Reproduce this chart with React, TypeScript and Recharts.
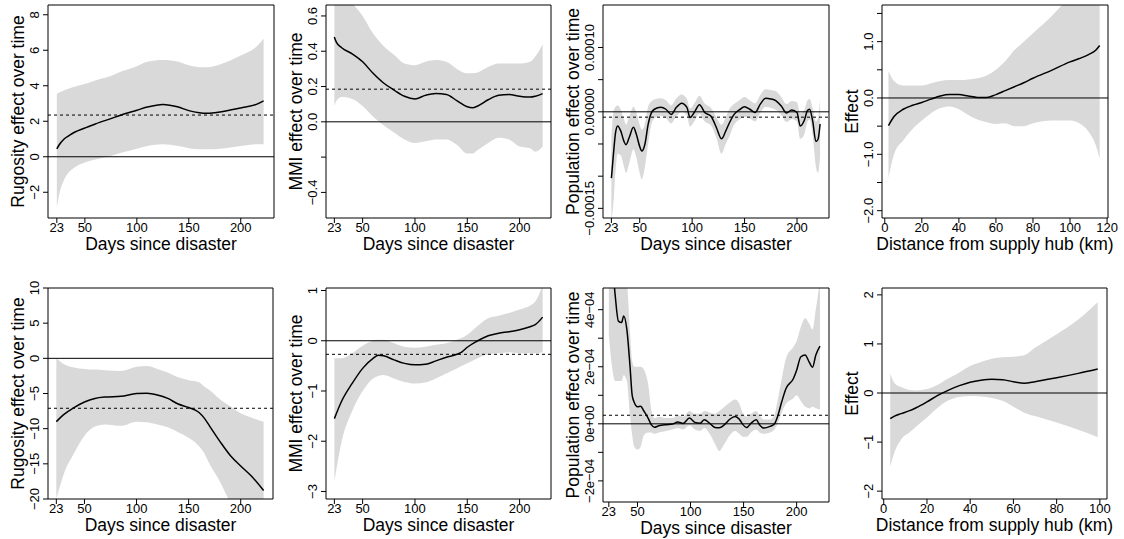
import React from 'react'
import { ComposedChart, Area, Line, XAxis, YAxis, ReferenceLine, ReferenceArea } from 'recharts'

const FONT = "'Liberation Sans', Arial, Helvetica, sans-serif"
const BAND = '#d9d9d9'

// shared tick labels
const xTicksDays = [23, 50, 100, 150, 200]
const xTicksDist1 = [0, 20, 40, 60, 80, 100, 120]
const xTicksDist2 = [0, 20, 40, 60, 80, 100]

// panel 1: rugosity (top)
const days1 = [23, 25, 30, 35, 40, 50, 60, 75, 85, 100, 110, 125, 140, 150, 160, 168, 180, 200, 215, 222]
const fit1 = [0.45, 0.65, 1.0, 1.2, 1.38, 1.62, 1.85, 2.15, 2.35, 2.62, 2.8, 2.95, 2.8, 2.6, 2.48, 2.45, 2.52, 2.75, 2.95, 3.15]
const lo1 = [-2.9, -2.2, -1.3, -0.85, -0.6, -0.32, -0.15, 0.05, 0.22, 0.45, 0.6, 0.7, 0.6, 0.48, 0.42, 0.42, 0.45, 0.6, 0.7, 0.7]
const hi1 = [3.55, 3.6, 3.75, 3.85, 3.95, 4.1, 4.3, 4.55, 4.8, 5.1, 5.35, 5.45, 5.35, 5.15, 5.05, 5.05, 5.2, 5.7, 6.2, 6.65]
const yTicks1 = [-2, 0, 2, 4, 6, 8]
const yLabels1 = ['−2', '0', '2', '4', '6', '8']

// panel 2: MMI (top)
const days2 = [23, 25, 30, 40, 50, 60, 70, 80, 90, 100, 110, 120, 130, 140, 150, 155, 160, 170, 180, 190, 200, 210, 215, 222]
const fit2 = [0.48, 0.45, 0.42, 0.385, 0.34, 0.275, 0.22, 0.18, 0.145, 0.13, 0.15, 0.16, 0.155, 0.12, 0.085, 0.08, 0.09, 0.125, 0.15, 0.155, 0.145, 0.14, 0.145, 0.16]
const lo2 = [0.09, 0.12, 0.14, 0.13, 0.09, 0.03, -0.02, -0.06, -0.1, -0.12, -0.11, -0.1, -0.1, -0.13, -0.18, -0.18, -0.16, -0.12, -0.09, -0.1, -0.14, -0.15, -0.17, -0.14]
const hi2 = [0.7, 0.72, 0.72, 0.67, 0.6, 0.5, 0.43, 0.38, 0.33, 0.32, 0.34, 0.35, 0.34, 0.3, 0.275, 0.275, 0.28, 0.31, 0.33, 0.33, 0.33, 0.34, 0.37, 0.44]
const yTicks2 = [-0.4, -0.2, 0, 0.2, 0.4, 0.6]
const yLabels2 = ['−0.4', '', '0.0', '0.2', '0.4', '0.6']

// panel 3: population (top)
const days3 = [23, 25, 27, 29, 32, 35, 37, 40, 44, 47, 50, 52, 55, 58, 61, 64, 70, 75, 80, 85, 90, 95, 98, 102, 107, 112, 118, 123, 128, 132, 135, 140, 145, 150, 155, 160, 165, 170, 175, 180, 185, 190, 195, 200, 203, 207, 210, 212, 215, 218, 220, 222]
const fit3 = [-10.3e-5, -6.5e-5, -3.2e-5, -2.2e-5, -3.0e-5, -4.6e-5, -5.1e-5, -4.0e-5, -2.4e-5, -3.6e-5, -5.4e-5, -6.1e-5, -5.0e-5, -2.0e-5, -0.2e-5, 0.4e-5, 0.7e-5, 0.4e-5, -0.4e-5, 0.7e-5, 1.35e-5, 0.7e-5, -0.9e-5, -0.1e-5, 1.1e-5, -0.1e-5, -0.7e-5, -2.4e-5, -4.2e-5, -3.0e-5, -1.9e-5, -0.4e-5, 0.3e-5, 0.8e-5, 0.4e-5, -0.1e-5, 1.2e-5, 2.1e-5, 2.0e-5, 1.7e-5, 0.9e-5, -0.2e-5, 0.3e-5, -0.1e-5, -2.2e-5, -1.3e-5, 0.2e-5, 0.4e-5, -1.5e-5, -4.6e-5, -4.3e-5, -1.9e-5]
const lo3 = [-17e-5, -14e-5, -9e-5, -6.5e-5, -6.8e-5, -8.5e-5, -9.5e-5, -8.0e-5, -5.8e-5, -7.2e-5, -9.5e-5, -10.5e-5, -8.5e-5, -5.0e-5, -2.0e-5, -1.0e-5, -0.6e-5, -1.0e-5, -1.8e-5, -0.7e-5, 0.0, -0.6e-5, -2.3e-5, -1.5e-5, -0.3e-5, -1.5e-5, -2.1e-5, -4.0e-5, -6.5e-5, -5.0e-5, -4.0e-5, -2.0e-5, -1.2e-5, -0.8e-5, -1.0e-5, -1.5e-5, -0.2e-5, 0.8e-5, 0.6e-5, 0.3e-5, -0.5e-5, -1.6e-5, -1.1e-5, -1.5e-5, -4.2e-5, -3.5e-5, -1.5e-5, -1.2e-5, -3.8e-5, -8.5e-5, -9.5e-5, -7.0e-5]
const hi3 = [-4e-5, 0.0, 0.8e-5, 1.0e-5, 0.3e-5, -1.2e-5, -2.0e-5, -0.8e-5, 0.8e-5, -0.2e-5, -2.0e-5, -2.8e-5, -1.8e-5, 0.8e-5, 1.6e-5, 1.9e-5, 2.1e-5, 1.8e-5, 1.0e-5, 2.1e-5, 2.7e-5, 2.0e-5, 0.5e-5, 1.3e-5, 2.5e-5, 1.3e-5, 0.6e-5, -0.8e-5, -2.0e-5, -0.9e-5, 0.3e-5, 1.2e-5, 1.8e-5, 2.3e-5, 1.8e-5, 1.3e-5, 2.6e-5, 3.5e-5, 3.4e-5, 3.2e-5, 2.3e-5, 1.2e-5, 1.7e-5, 1.5e-5, -0.2e-5, 0.3e-5, 1.8e-5, 2.0e-5, 0.5e-5, -1.5e-5, -1.0e-5, 2.0e-5]
const yTicks3 = [-0.00015, -0.0001, -0.00005, 0, 0.00005, 0.0001]
const yLabels3 = ['−0.00015', '', '', '0.00000', '', '0.00010']

// panel 4: distance (top)
const dist4 = [2, 5, 10, 15, 20, 25, 30, 35, 40, 45, 50, 55, 60, 65, 70, 75, 80, 90, 100, 105, 110, 114, 116]
const fit4 = [-0.49, -0.33, -0.2, -0.13, -0.08, -0.02, 0.035, 0.06, 0.06, 0.035, 0.01, 0.01, 0.06, 0.13, 0.2, 0.27, 0.35, 0.49, 0.64, 0.7, 0.77, 0.85, 0.93]
const lo4 = [-1.42, -1.0, -0.75, -0.55, -0.4, -0.27, -0.18, -0.15, -0.2, -0.3, -0.38, -0.43, -0.46, -0.45, -0.5, -0.5, -0.45, -0.4, -0.4, -0.45, -0.6, -0.85, -1.08]
const hi4 = [0.48, 0.3, 0.22, 0.22, 0.22, 0.26, 0.3, 0.32, 0.32, 0.33, 0.35, 0.4, 0.5, 0.65, 0.85, 1.0, 1.15, 1.45, 1.8, 1.95, 2.1, 2.2, 2.3]
const yTicks4 = [-2, -1.5, -1, -0.5, 0, 0.5, 1, 1.5]
const yLabels4 = ['−2.0', '', '−1.0', '', '0.0', '', '1.0', '']

// panel 5: rugosity (bottom)
const days5 = [23, 30, 40, 50, 60, 70, 85, 100, 110, 120, 130, 140, 150, 160, 165, 170, 180, 190, 200, 210, 222]
const fit5 = [-9.0, -8.0, -7.0, -6.2, -5.7, -5.5, -5.4, -5.0, -4.95, -5.2, -5.7, -6.5, -7.0, -7.7, -8.5, -9.6, -11.8, -13.8, -15.3, -16.7, -18.8]
const lo5 = [-20, -16.5, -13.5, -11, -9.7, -9.4, -9.6, -9.0, -9.1, -9.4, -9.8, -10.5, -11.3, -12.5, -13.5, -15, -17.5, -20.5, -23, -25, -28]
const hi5 = [0, -0.8, -1.3, -1.5, -1.6, -1.7, -1.8, -1.2, -1.1, -1.5, -2.0, -2.7, -3.1, -3.4, -4.0, -4.5, -5.8, -6.8, -7.8, -8.4, -9.0]
const yTicks5 = [-20, -15, -10, -5, 0, 5, 10]
const yLabels5 = ['−20', '−15', '−10', '−5', '0', '5', '10']

// panel 6: MMI (bottom)
const days6 = [23, 30, 40, 50, 60, 65, 70, 80, 90, 100, 110, 120, 130, 140, 145, 150, 160, 170, 180, 190, 200, 210, 215, 222]
const fit6 = [-1.55, -1.2, -0.85, -0.55, -0.35, -0.29, -0.3, -0.38, -0.45, -0.48, -0.47, -0.4, -0.33, -0.27, -0.22, -0.13, 0.0, 0.1, 0.15, 0.18, 0.22, 0.28, 0.32, 0.47]
const lo6 = [-2.8, -2.0, -1.4, -1.0, -0.75, -0.7, -0.68, -0.75, -0.82, -0.85, -0.83, -0.75, -0.65, -0.55, -0.5, -0.45, -0.35, -0.27, -0.25, -0.23, -0.25, -0.25, -0.25, -0.23]
const hi6 = [-0.35, -0.35, -0.25, -0.1, 0.0, 0.02, 0.02, -0.05, -0.12, -0.14, -0.12, -0.08, -0.05, 0.02, 0.06, 0.12, 0.3, 0.45, 0.5, 0.55, 0.62, 0.7, 0.78, 1.1]
const yTicks6 = [-3, -2, -1, 0, 1]
const yLabels6 = ['−3', '−2', '−1', '0', '1']

// panel 7: population (bottom)
const days7 = [23, 26, 29, 32, 35, 37, 40, 43, 45, 47, 50, 53, 56, 60, 63, 66, 70, 77, 83, 88, 93, 99, 104, 109, 113, 118, 123, 127, 132, 137, 142, 146, 149, 153, 157, 162, 165, 169, 175, 179, 182, 186, 190, 197, 200, 204, 208, 212, 215, 218, 222]
const fit7 = [7.0e-4, 5.8e-4, 4.5e-4, 3.6e-4, 3.55e-4, 3.78e-4, 3.3e-4, 2.0e-4, 1.0e-4, 0.75e-4, 0.6e-4, 0.62e-4, 0.45e-4, 0.2e-4, -0.03e-4, -0.12e-4, -0.07e-4, -0.03e-4, -0.01e-4, 0.06e-4, 0.01e-4, 0.2e-4, 0.05e-4, 0.02e-4, 0.14e-4, 0.02e-4, -0.13e-4, -0.14e-4, -0.03e-4, 0.16e-4, 0.26e-4, 0.16e-4, -0.01e-4, -0.13e-4, 0.02e-4, 0.14e-4, -0.03e-4, -0.15e-4, -0.09e-4, -0.01e-4, 0.25e-4, 0.78e-4, 1.24e-4, 1.59e-4, 1.88e-4, 2.35e-4, 2.41e-4, 2.15e-4, 1.98e-4, 2.4e-4, 2.72e-4]
const lo7 = [3.1e-4, 2.0e-4, 1.5e-4, 1.5e-4, 1.5e-4, 1.7e-4, 1.5e-4, 0.3e-4, -0.4e-4, -0.8e-4, -0.9e-4, -0.8e-4, -0.4e-4, -0.3e-4, -0.3e-4, -0.35e-4, -0.3e-4, -0.25e-4, -0.2e-4, -0.15e-4, -0.2e-4, -0.05e-4, -0.2e-4, -0.25e-4, -0.15e-4, -0.35e-4, -0.7e-4, -0.95e-4, -0.7e-4, -0.4e-4, -0.25e-4, -0.35e-4, -0.45e-4, -0.45e-4, -0.3e-4, -0.2e-4, -0.3e-4, -0.35e-4, -0.3e-4, -0.2e-4, 0.0, 0.4e-4, 0.7e-4, 0.9e-4, 1.0e-4, 0.8e-4, 0.6e-4, 0.55e-4, 0.6e-4, 0.55e-4, 0.5e-4]
const hi7 = [9e-4, 8e-4, 7e-4, 6e-4, 5.5e-4, 5.5e-4, 5.0e-4, 3.2e-4, 2.2e-4, 2.0e-4, 2.0e-4, 2.0e-4, 1.9e-4, 1.4e-4, 0.5e-4, 0.2e-4, 0.25e-4, 0.2e-4, 0.2e-4, 0.3e-4, 0.25e-4, 0.45e-4, 0.35e-4, 0.35e-4, 0.45e-4, 0.4e-4, 0.35e-4, 0.45e-4, 0.6e-4, 0.75e-4, 0.85e-4, 0.7e-4, 0.4e-4, 0.25e-4, 0.35e-4, 0.45e-4, 0.3e-4, 0.15e-4, 0.15e-4, 0.3e-4, 0.8e-4, 1.6e-4, 2.3e-4, 2.7e-4, 2.9e-4, 3.4e-4, 3.7e-4, 3.5e-4, 3.3e-4, 4.0e-4, 5.0e-4]
const yTicks7 = [-2e-4, -1e-4, 0, 1e-4, 2e-4, 3e-4, 4e-4]
const yLabels7 = ['−2e−04', '', '0e+00', '', '2e−04', '', '4e−04']

// panel 8: distance (bottom)
const dist8 = [3, 5, 8, 12, 15, 20, 25, 30, 35, 40, 45, 50, 55, 60, 65, 70, 80, 90, 99]
const fit8 = [-0.52, -0.47, -0.42, -0.36, -0.3, -0.18, -0.05, 0.06, 0.15, 0.22, 0.26, 0.28, 0.27, 0.23, 0.2, 0.23, 0.31, 0.4, 0.49]
const lo8 = [-1.5, -1.2, -0.95, -0.8, -0.68, -0.5, -0.3, -0.15, -0.08, -0.06, -0.07, -0.1, -0.16, -0.28, -0.4, -0.47, -0.6, -0.75, -0.9]
const hi8 = [0.4, 0.2, 0.12, 0.06, 0.05, 0.08, 0.17, 0.3, 0.42, 0.55, 0.63, 0.7, 0.73, 0.74, 0.77, 0.92, 1.2, 1.5, 1.85]
const yTicks8 = [-2, -1, 0, 1, 2]
const yLabels8 = ['−2', '−1', '0', '1', '2']

const rows = (xs: number[], fit: number[], lo: number[], hi: number[]) =>
  xs.map((x, i) => ({ x, fit: fit[i], band: [lo[i], hi[i]] }))

// space around each plot box, inside its chart
const LEFT = 48
const TOP = 14
const RIGHT = 14
const BOTTOM = 40

type PanelProps = {
  data: any[]
  box: [number, number, number, number]
  xDomain: [number, number]
  yDomain: [number, number]
  xTicks: number[]
  yTicks: number[]
  yLabels: string[]
  xTitle: string
  yTitle: string
  mean?: number
}

function Panel({ data, box, xDomain, yDomain, xTicks, yTicks, yLabels, xTitle, yTitle, mean }: PanelProps) {
  const [l, t, r, b] = box
  const width = r - l + LEFT + RIGHT
  const height = b - t + TOP + BOTTOM

  const YTick = ({ x, y, payload }: any) => {
    const i = yTicks.indexOf(payload.value)
    const text = i >= 0 ? yLabels[i] : ''
    return (
      <text x={x} y={y} transform={`rotate(-90 ${x} ${y})`} textAnchor="middle" fontSize={13} fill="#000" fontFamily={FONT}>
        {text}
      </text>
    )
  }

  return (
    <div style={{ position: 'absolute', left: l - LEFT, top: t - TOP }}>
      <ComposedChart width={width} height={height} data={data} margin={{ top: TOP, right: RIGHT, bottom: 0, left: 0 }}>
        <XAxis
          type="number"
          dataKey="x"
          domain={xDomain}
          allowDataOverflow
          ticks={xTicks}
          interval={0}
          height={BOTTOM}
          tickSize={5}
          tickMargin={0}
          axisLine={false}
          tickLine={{ stroke: '#000' }}
          tick={{ fontSize: 13, fill: '#000', fontFamily: FONT }}
          label={{ value: xTitle, position: 'insideBottom', offset: 8, style: { fontSize: 17.5, fill: '#000', fontFamily: FONT } }}
        />
        <YAxis
          type="number"
          domain={yDomain}
          allowDataOverflow
          ticks={yTicks}
          interval={0}
          width={LEFT}
          tickSize={5}
          tickMargin={4}
          axisLine={false}
          tickLine={{ stroke: '#000' }}
          tick={<YTick />}
          label={{ value: yTitle, angle: -90, position: 'insideLeft', offset: 18, style: { textAnchor: 'middle', fontSize: 17.5, fill: '#000', fontFamily: FONT } }}
        />
        <Area type="monotone" dataKey="band" stroke="none" fill={BAND} fillOpacity={1} isAnimationActive={false} />
        <ReferenceLine y={0} stroke="#000" strokeWidth={1} />
        {mean !== undefined && <ReferenceLine y={mean} stroke="#000" strokeWidth={1} strokeDasharray="3 3" />}
        <Line type="monotone" dataKey="fit" stroke="#000" strokeWidth={1.5} dot={false} isAnimationActive={false} />
        <ReferenceArea x1={xDomain[0]} x2={xDomain[1]} y1={yDomain[0]} y2={yDomain[1]} fill="none" stroke="#000" strokeWidth={1} ifOverflow="visible" />
      </ComposedChart>
    </div>
  )
}

const days = 'Days since disaster'
const dist = 'Distance from supply hub (km)'

export default function App() {
  return (
    <div style={{ position: 'absolute', left: 0, top: 0, width: 1124, height: 539, background: '#fff', fontFamily: FONT, overflow: 'hidden' }}>
      <Panel data={rows(days1, fit1, lo1, hi1)} box={[48, 5, 274, 218]} xDomain={[14.5, 232]} yDomain={[-3.45, 8.55]}
        xTicks={xTicksDays} yTicks={yTicks1} yLabels={yLabels1} xTitle={days} yTitle="Rugosity effect over time" mean={2.35} />
      <Panel data={rows(days2, fit2, lo2, hi2)} box={[326, 5, 551, 218]} xDomain={[15, 230]} yDomain={[-0.545, 0.662]}
        xTicks={xTicksDays} yTicks={yTicks2} yLabels={yLabels2} xTitle={days} yTitle="MMI effect over time" mean={0.185} />
      <Panel data={rows(days3, fit3, lo3, hi3)} box={[603, 5, 829, 218]} xDomain={[15, 230.5]} yDomain={[-0.000165, 0.000166]}
        xTicks={xTicksDays} yTicks={yTicks3} yLabels={yLabels3} xTitle={days} yTitle="Population effect over time" mean={-0.0000083} />
      <Panel data={rows(dist4, fit4, lo4, hi4)} box={[882, 5, 1108, 218]} xDomain={[-1.5, 120.5]} yDomain={[-2.13, 1.65]}
        xTicks={xTicksDist1} yTicks={yTicks4} yLabels={yLabels4} xTitle={dist} yTitle="Effect" />
      <Panel data={rows(days5, fit5, lo5, hi5)} box={[48, 288, 273, 499]} xDomain={[15, 231]} yDomain={[-20, 10]}
        xTicks={xTicksDays} yTicks={yTicks5} yLabels={yLabels5} xTitle={days} yTitle="Rugosity effect over time" mean={-7.1} />
      <Panel data={rows(days6, fit6, lo6, hi6)} box={[326, 288, 551, 499]} xDomain={[15, 230]} yDomain={[-3.15, 1.05]}
        xTicks={xTicksDays} yTicks={yTicks6} yLabels={yLabels6} xTitle={days} yTitle="MMI effect over time" mean={-0.27} />
      <Panel data={rows(days7, fit7, lo7, hi7)} box={[603, 288, 829, 502]} xDomain={[17.5, 230.5]} yDomain={[-0.000274, 0.000476]}
        xTicks={xTicksDays} yTicks={yTicks7} yLabels={yLabels7} xTitle={days} yTitle="Population effect over time" mean={0.00003} />
      <Panel data={rows(dist8, fit8, lo8, hi8)} box={[882, 288, 1107, 499]} xDomain={[-0.8, 103.3]} yDomain={[-2.16, 2.14]}
        xTicks={xTicksDist2} yTicks={yTicks8} yLabels={yLabels8} xTitle={dist} yTitle="Effect" />
    </div>
  )
}
